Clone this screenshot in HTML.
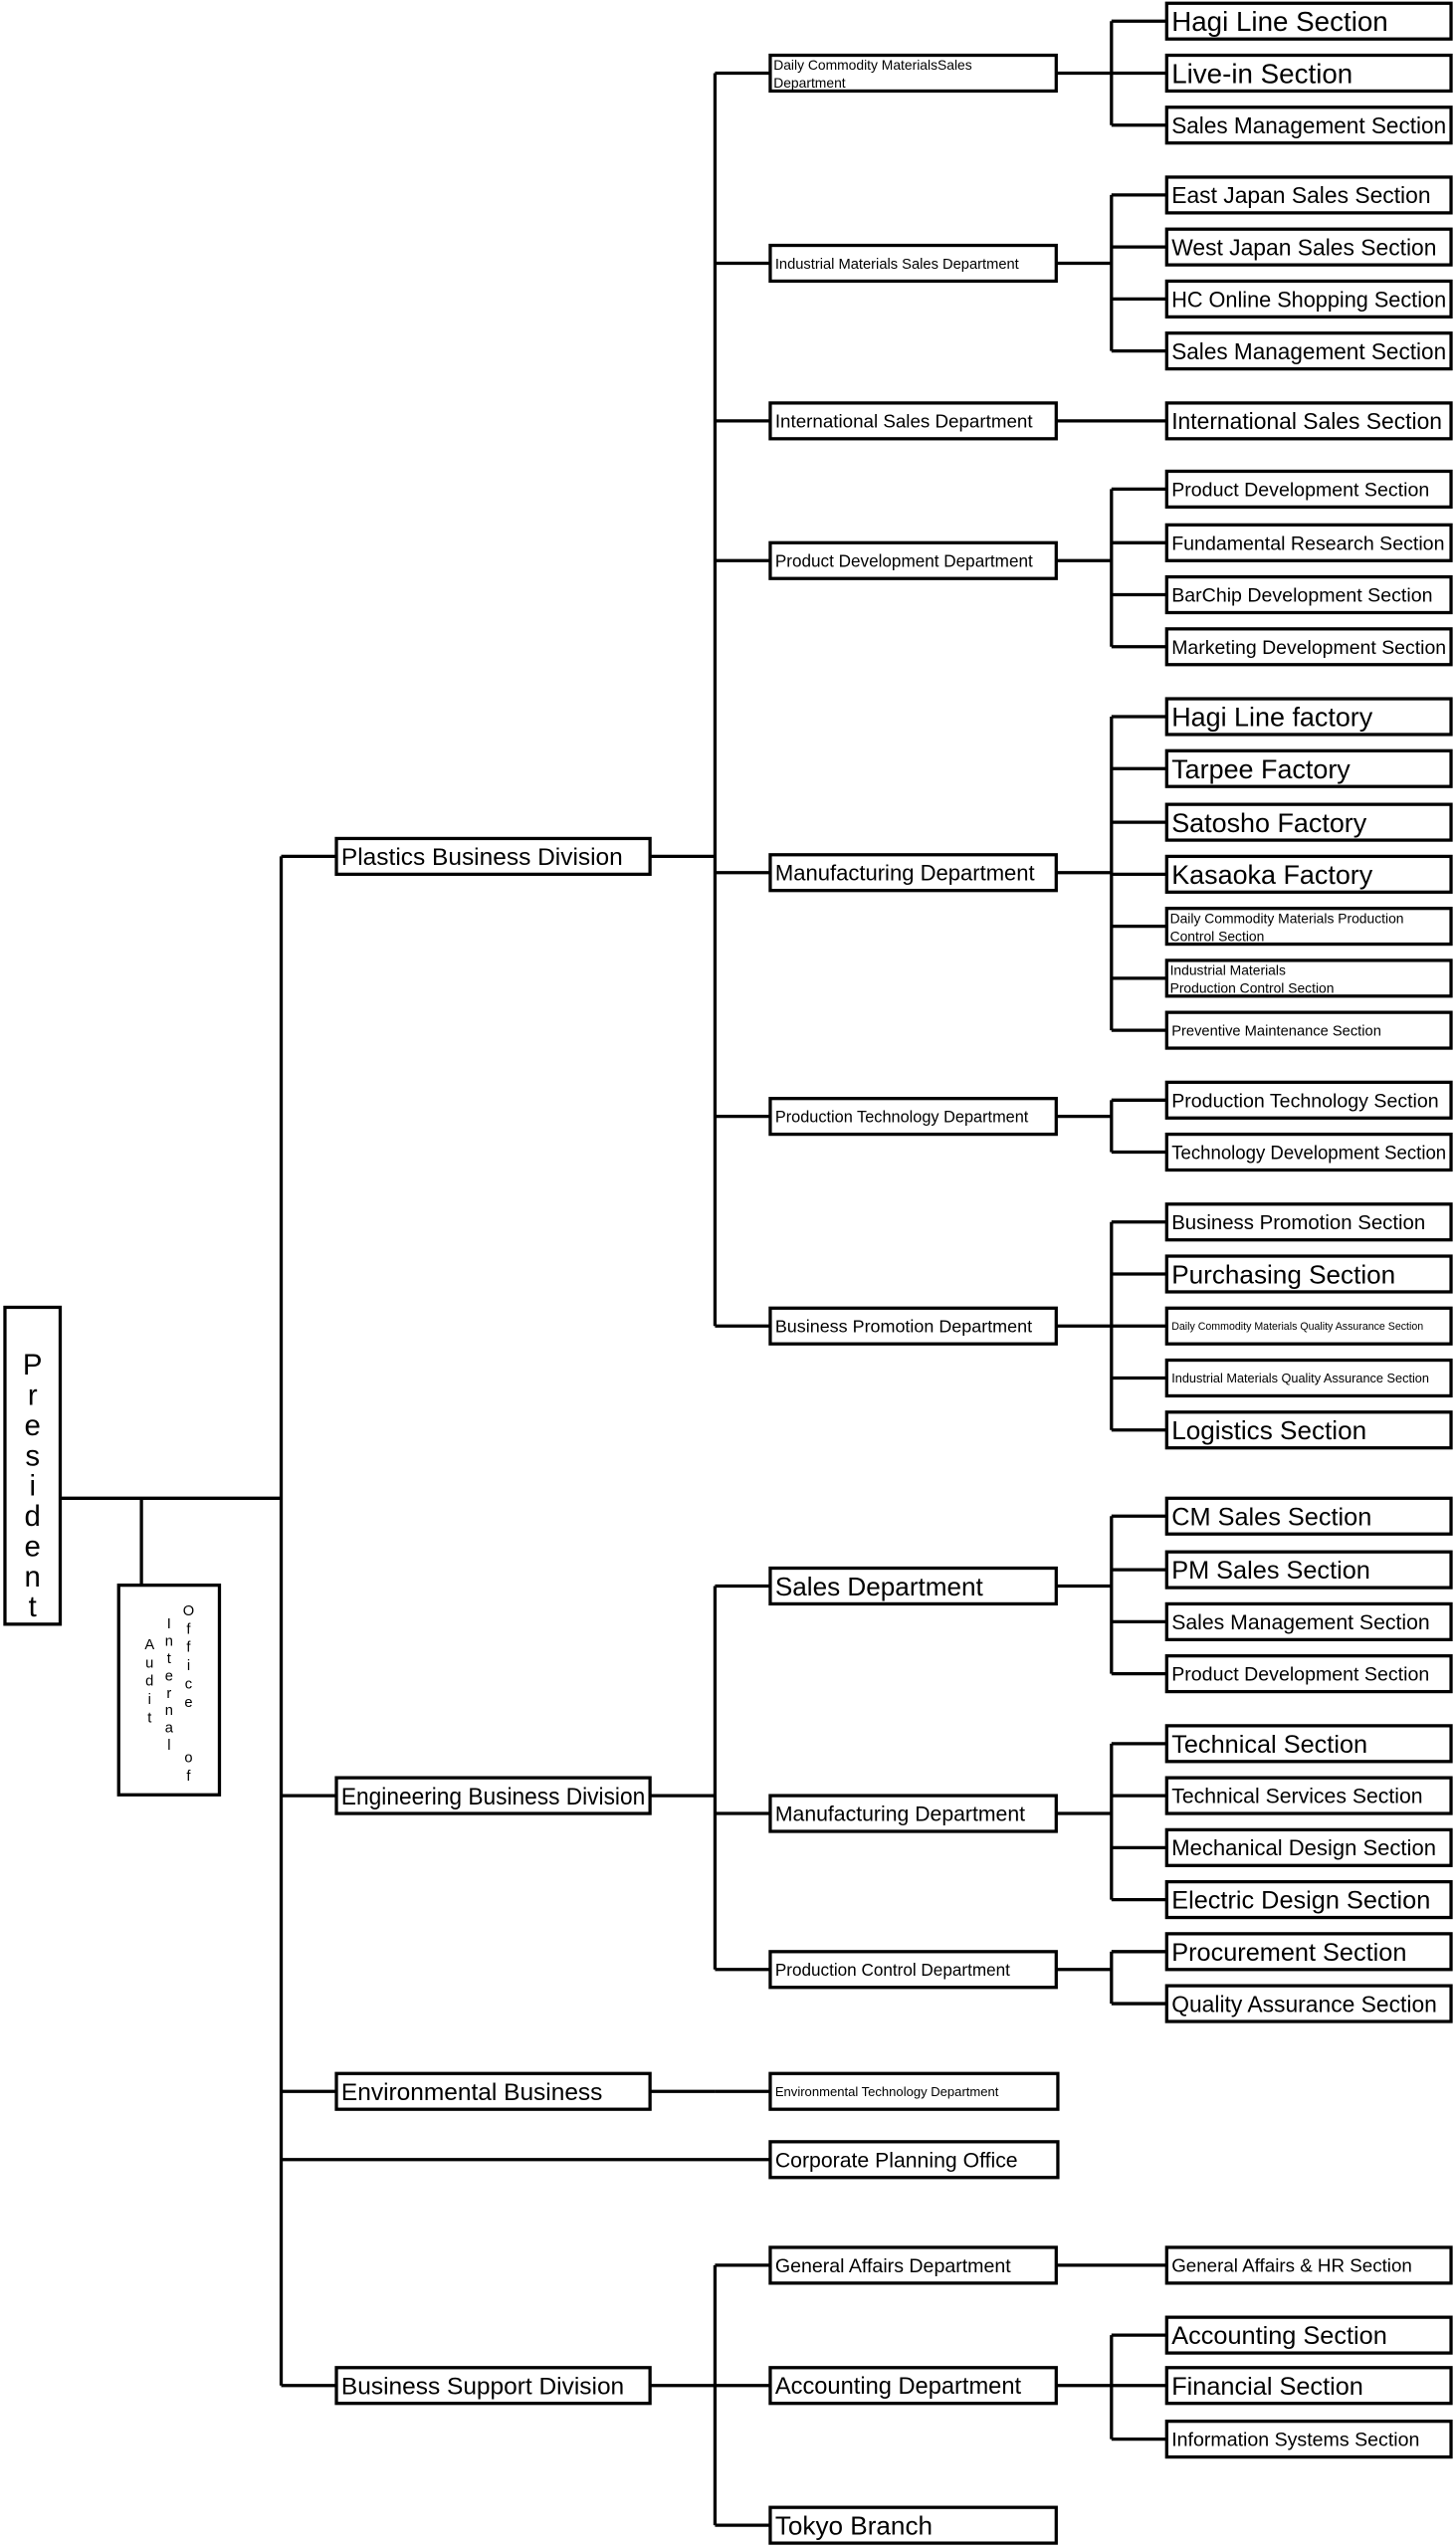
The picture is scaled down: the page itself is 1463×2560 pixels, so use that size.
<!DOCTYPE html>
<html><head><meta charset="utf-8"><style>
html,body{margin:0;padding:0;background:#fff;}
svg{display:block;}
text{font-family:"Liberation Sans","Noto Sans CJK JP",sans-serif;fill:#000;}
</style></head><body>
<svg id="s" width="1463" height="2560" viewBox="0 0 896 1568" xmlns="http://www.w3.org/2000/svg">
<g id="lines" stroke="#000" stroke-width="2" fill="none"></g>
<g id="boxes"></g>
</svg>
<script>
var NS="http://www.w3.org/2000/svg";
var L=document.getElementById('lines'),B=document.getElementById('boxes');
function ln(x1,y1,x2,y2){var e=document.createElementNS(NS,'line');e.setAttribute('x1',x1);e.setAttribute('y1',y1);e.setAttribute('x2',x2);e.setAttribute('y2',y2);L.appendChild(e);}
function txt(x,y,s,size,maxw){var t=document.createElementNS(NS,'text');t.setAttribute('x',x);t.setAttribute('y',y);t.setAttribute('font-size',size);t.textContent=s;B.appendChild(t);
 if(maxw){try{var w=t.getComputedTextLength();if(w>maxw){t.setAttribute('textLength',maxw);t.setAttribute('lengthAdjust','spacingAndGlyphs');}}catch(e){}}return t;}
function box(x,cy,w,label,size,h){h=h||22;var r=document.createElementNS(NS,'rect');r.setAttribute('x',x);r.setAttribute('y',cy-h/2);r.setAttribute('width',w);r.setAttribute('height',h);r.setAttribute('fill','#fff');r.setAttribute('stroke','#000');r.setAttribute('stroke-width','2');B.appendChild(r);
 if(Array.isArray(label)){var n=label.length;for(var i=0;i<n;i++){txt(x+2,cy-h/2+ (i+1)*(h/n)-2,label[i],size,w-5);} }
 else if(label) txt(x+3,cy+size*0.36,label,size,w-6);}
// President
box(3,902,34,'',0,195);
var p='President';for(var i=0;i<p.length;i++){var t=txt(20,846+i*18.6,p[i],18);t.setAttribute('text-anchor','middle');}
ln(37,922,173,922);ln(87,922,87,976);
box(73,1040,62,'',0,129);
function vert(x,y0,s,step){for(var i=0;i<s.length;i++){if(s[i]==' ')continue;var t=txt(x,y0+i*step,s[i],9);t.setAttribute('text-anchor','middle');}}
vert(116,994,'Office  of',11.3);vert(104,1002,'Internal',10.7);vert(92,1015,'Audit',11.2);
// trunk
ln(173,527,173,1468);
var divs=[[527,'Plastics Business Division'],[1105,'Engineering Business Division'],[1287,'Environmental Business'],[1468,'Business Support Division']];
divs.forEach(function(d){ln(173,d[0],207,d[0]);ln(400,d[0],440,d[0]);box(207,d[0],193,d[1],15);});
ln(440,1287,474,1287);box(474,1287,177,'Environmental Technology Department',8);
ln(173,1329,474,1329);box(474,1329,177,'Corporate Planning Office',13);
// depts
function group(trunkTop,trunkBot,depts){ln(440,trunkTop,440,trunkBot);
 depts.forEach(function(d){ln(440,d.y,474,d.y);box(474,d.y,176,d.n,d.s);
  if(d.sec&&d.sec.length){var ys=d.sec.map(function(s){return s[0];});
   var mn=Math.min.apply(null,ys),mx=Math.max.apply(null,ys);
   if(d.sec.length==1){ln(650,d.y,718,d.y);}
   else{ln(650,d.y,684,d.y);ln(684,mn,684,mx);}
   d.sec.forEach(function(s){if(d.sec.length>1)ln(684,s[0],718,s[0]);box(718,s[0],175,s[1],s[2]);});}
 });}
group(45,816,[
 {y:45,n:['Daily Commodity MaterialsSales','Department'],s:8.5,sec:[[13,'Hagi Line Section',17],[45,'Live-in Section',17],[77,'Sales Management Section',14]]},
 {y:162,n:'Industrial Materials Sales Department',s:9,sec:[[120,'East Japan Sales Section',14],[152,'West Japan Sales Section',14],[184,'HC Online Shopping Section',13.5],[216,'Sales Management Section',14]]},
 {y:259,n:'International Sales Department',s:11.5,sec:[[259,'International Sales Section',14]]},
 {y:345,n:'Product Development Department',s:10.5,sec:[[301,'Product Development Section',12],[334,'Fundamental Research Section',12],[366,'BarChip Development Section',12],[398,'Marketing Development Section',12]]},
 {y:537,n:'Manufacturing Department',s:13.5,sec:[[441,'Hagi Line factory',16.5],[473,'Tarpee Factory',16.5],[506,'Satosho Factory',16.5],[538,'Kasaoka Factory',16.5],[570,['Daily Commodity Materials Production','Control Section'],8.5],[602,['Industrial Materials','Production Control Section'],8.5],[634,'Preventive Maintenance Section',9]]},
 {y:687,n:'Production Technology Department',s:10,sec:[[677,'Production Technology Section',12],[709,'Technology Development Section',12]]},
 {y:816,n:'Business Promotion Department',s:11,sec:[[752,'Business Promotion Section',12.5],[784,'Purchasing Section',16],[816,'Daily Commodity Materials Quality Assurance Section',6.5],[848,'Industrial Materials Quality Assurance Section',7.8],[880,'Logistics Section',16]]}
]);
group(976,1212,[
 {y:976,n:'Sales Department',s:16,sec:[[933,'CM Sales Section',15.5],[966,'PM Sales Section',15.5],[998,'Sales Management Section',13],[1030,'Product Development Section',12]]},
 {y:1116,n:'Manufacturing Department',s:13,sec:[[1073,'Technical Section',15.5],[1105,'Technical Services Section',13],[1137,'Mechanical Design Section',13.5],[1169,'Electric Design Section',15.5]]},
 {y:1212,n:'Production Control Department',s:10.5,sec:[[1201,'Procurement Section',15.5],[1233,'Quality Assurance Section',14]]}
]);
group(1394,1554,[
 {y:1394,n:'General Affairs Department',s:12,sec:[[1394,'General Affairs & HR  Section',11.5]]},
 {y:1468,n:'Accounting Department',s:14.5,sec:[[1437,'Accounting Section',15.5],[1468,' Financial Section',15.5],[1501,'Information Systems Section',12]]},
 {y:1554,n:'Tokyo Branch',s:16,sec:[]}
]);
</script>
</body></html>
